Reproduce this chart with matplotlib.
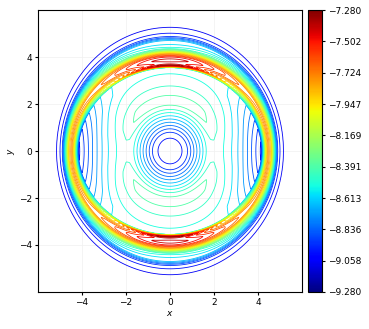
import numpy as np
import matplotlib
matplotlib.use("Agg")
import matplotlib.pyplot as plt
from matplotlib.colors import Normalize
from matplotlib.cm import ScalarMappable

# colour range and levels
vmin, vmax = -9.28, -7.28
n_levels = 30
cbar_ticks = np.linspace(vmin, vmax, 10)

# inner edge of the ring and outermost contour (semi axes x, y)
edge_x, edge_y = 4.15, 3.55
outer_x, outer_y = 5.16, 5.27

# interior profile along the x axis and along the y axis (radius, value)
in_r = [0.0, 0.3, 0.68, 1.0, 1.3, 1.6, 1.75, 1.9, 2.05, 2.3, 2.6, 2.9, 3.2, 3.5, 3.8, 4.15, 6.0]
in_side = [-9.04, -9.03, -8.99, -8.84, -8.69, -8.54, -8.48, -8.465, -8.47, -8.50, -8.55, -8.61, -8.69, -8.79, -8.90, -9.02, -9.02]
in_top = [-9.04, -9.03, -8.99, -8.84, -8.69, -8.54, -8.46, -8.40, -8.35, -8.37, -8.43, -8.47, -8.51, -8.55, -8.55, -8.55, -8.55]

# ring profile across the band, 0 = inner edge, 1 = outermost contour
band_t_top = [0.0, 0.03, 0.058, 0.10, 0.19, 0.27, 0.33, 0.38, 0.42, 0.48, 0.58, 0.66, 0.70, 0.74, 0.78, 0.86, 1.0, 1.1, 3.0]
band_top = [-8.55, -7.60, -7.29, -7.45, -7.38, -7.50, -7.75, -8.00, -8.25, -8.50, -8.60, -8.63, -8.75, -8.87, -8.96, -9.01, -9.075, -9.10, -9.10]
band_t_side = [0.0, 0.12, 0.22, 0.33, 0.45, 0.55, 0.63, 0.68, 0.74, 0.85, 1.0, 1.14, 3.0]
band_side = [-9.02, -8.45, -7.95, -7.72, -7.90, -8.30, -8.62, -8.80, -8.94, -9.01, -9.075, -9.10, -9.10]


def ellipse_r(a, b, t):
    return a * b / np.sqrt((b * np.cos(t)) ** 2 + (a * np.sin(t)) ** 2)


x = np.linspace(-6, 6, 500)
y = np.linspace(-6, 6, 500)
X, Y = np.meshgrid(x, y)
R = np.hypot(X, Y)
T = np.arctan2(Y, X)
w = np.sin(T) ** 2
w_in = 1 - np.cos(T) ** 6

r_edge = ellipse_r(edge_x, edge_y, T)
r_out = ellipse_r(outer_x, outer_y, T)
t = np.clip((R - r_edge) / (r_out - r_edge), 0, None)

f_in = (1 - w_in) * np.interp(R, in_r, in_side) + w_in * np.interp(R, in_r, in_top)
f_in_edge = (1 - w_in) * np.interp(r_edge, in_r, in_side) + w_in * np.interp(r_edge, in_r, in_top)
f_band = (1 - w) * np.interp(t, band_t_side, band_side) + w * np.interp(t, band_t_top, band_top)
f_band0 = (1 - w) * band_side[0] + w * band_top[0]
f_band = f_band + (f_in_edge - f_band0) * np.clip(1 - t / 0.05, 0, 1)
Z = np.where(R < r_edge, f_in, f_band)

plt.rcParams['font.size'] = 6.5
fig = plt.figure(figsize=(3.69, 3.29), dpi=100)
ax = fig.add_axes([0.103, 0.1125, 0.7154, 0.857])
cax = fig.add_axes([0.8347, 0.1125, 0.038, 0.857])

levels = np.linspace(vmin, vmax, n_levels)
ax.contour(X, Y, Z, levels=levels, cmap='jet', vmin=vmin, vmax=vmax, linewidths=0.6)
ax.set_xlim(-6, 6)
ax.set_ylim(-6, 6)
ax.set_xticks([-4, -2, 0, 2, 4])
ax.set_yticks([-4, -2, 0, 2, 4])
ax.grid(color='0.94', linewidth=0.5)
ax.set_axisbelow(True)
ax.set_xlabel('$x$', labelpad=1)
ax.set_ylabel('$y$', labelpad=1)
ax.tick_params(length=2.5, pad=2)

sm = ScalarMappable(norm=Normalize(vmin, vmax), cmap='jet')
cb = fig.colorbar(sm, cax=cax, ticks=cbar_ticks)
cb.ax.set_yticklabels([f'{v:.3f}'.replace('-', '\u2212') for v in cbar_ticks])
cb.ax.tick_params(length=2.5, pad=2)

fig.savefig('out.png', dpi=100)
